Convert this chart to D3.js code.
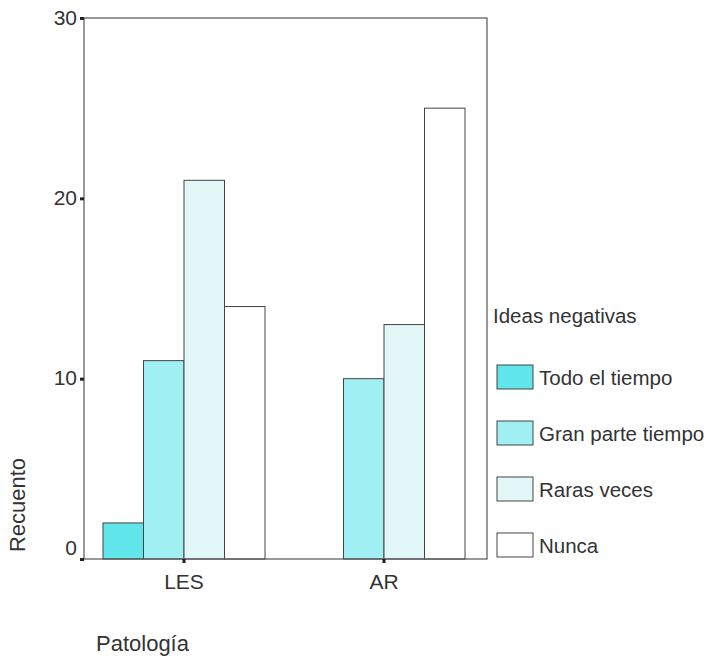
<!DOCTYPE html>
<html>
<head>
<meta charset="utf-8">
<script src="https://cdn.jsdelivr.net/npm/d3@7"></script>
<style>
body { margin: 0; background: #fff; }
text { font-family: "Liberation Sans", Arial, sans-serif; fill: #333; }
</style>
</head>
<body>
<script>
/*chart data*/
var categories = ["LES", "AR"];
var seriesNames = ["Todo el tiempo", "Gran parte tiempo", "Raras veces", "Nunca"];
var todoElTiempo = [2, 0];
var granParteTiempo = [11, 10];
var rarasVeces = [21, 13];
var nunca = [14, 25];
var yTicks = [0, 10, 20, 30];

var seriesValues = [todoElTiempo, granParteTiempo, rarasVeces, nunca];
var colors = ["#5fe5ea", "#a0eff3", "#e2f8f8", "#ffffff"];

var svgWidth = 708, svgHeight = 659;
var margin = {top: 18, left: 84};
var width = 403, height = 541;

var svg = d3.select("body").append("svg")
	.attr("width", svgWidth)
	.attr("height", svgHeight);

var chartGroup = svg.append("g")
	.attr("transform", `translate(${margin.left}, ${margin.top})`);

/*scales*/
var xScale = d3.scaleBand()
	.domain(categories)
	.range([0, 400])
	.paddingInner(0.19)
	.paddingOuter(0.095);
var subScale = d3.scaleBand()
	.domain(seriesNames)
	.range([0, xScale.bandwidth()]);
var yScale = d3.scaleLinear()
	.domain([0, 30])
	.range([height, 0]);

/*bars*/
var rows = [];
categories.forEach(function (c, i) {
	seriesNames.forEach(function (s, j) {
		rows.push({cat: c, series: s, idx: j, value: seriesValues[j][i]});
	});
});

chartGroup.selectAll(".bar")
	.data(rows.filter(d => d.value > 0))
	.enter()
	.append("rect")
	.attr("class", "bar")
	.attr("x", d => xScale(d.cat) + subScale(d.series))
	.attr("y", d => yScale(d.value))
	.attr("width", subScale.bandwidth())
	.attr("height", d => height - yScale(d.value))
	.style("fill", d => colors[d.idx])
	.style("stroke", "#444")
	.style("stroke-width", 1);

/*frame*/
chartGroup.append("rect")
	.attr("width", width)
	.attr("height", height)
	.style("fill", "none")
	.style("stroke", "#555")
	.style("stroke-width", 1.2);

/*y axis*/
var leftAxis = d3.axisLeft(yScale).tickValues(yTicks).tickSize(4).tickPadding(3);
var yAxis = chartGroup.append("g").call(leftAxis);
yAxis.select(".domain").remove();
yAxis.selectAll("line").style("stroke", "#222").style("stroke-width", 3);
yAxis.selectAll("text")
	.style("font-size", "21px")
	.style("fill", "#333")
	.attr("dy", d => d === 0 ? "-0.2em" : "0.3em");

/*x axis*/
var bottomAxis = d3.axisBottom(xScale).tickSize(4).tickPadding(11);
var xAxis = chartGroup.append("g")
	.attr("transform", `translate(0, ${height})`)
	.call(bottomAxis);
xAxis.select(".domain").remove();
xAxis.selectAll("line").style("stroke", "#222").style("stroke-width", 3);
xAxis.selectAll("text")
	.style("font-size", "21px")
	.style("fill", "#333");

/*axis titles*/
svg.append("text")
	.attr("transform", "translate(25, 505) rotate(-90)")
	.attr("text-anchor", "middle")
	.style("font-size", "22px")
	.text("Recuento");

svg.append("text")
	.attr("x", 96)
	.attr("y", 651)
	.style("font-size", "22px")
	.text("Patología");

/*legend*/
var legend = svg.append("g").attr("transform", "translate(493, 0)");
legend.append("text")
	.attr("x", 0)
	.attr("y", 323)
	.style("font-size", "20.5px")
	.text("Ideas negativas");

var items = legend.selectAll(".item")
	.data(seriesNames)
	.enter()
	.append("g")
	.attr("class", "item")
	.attr("transform", (d, i) => `translate(4, ${365 + i * 56})`);

items.append("rect")
	.attr("width", 36)
	.attr("height", 24)
	.style("fill", (d, i) => colors[i])
	.style("stroke", "#444")
	.style("stroke-width", 1);

items.append("text")
	.attr("x", 42)
	.attr("y", 20)
	.style("font-size", "20.5px")
	.text(d => d);
</script>
</body>
</html>
